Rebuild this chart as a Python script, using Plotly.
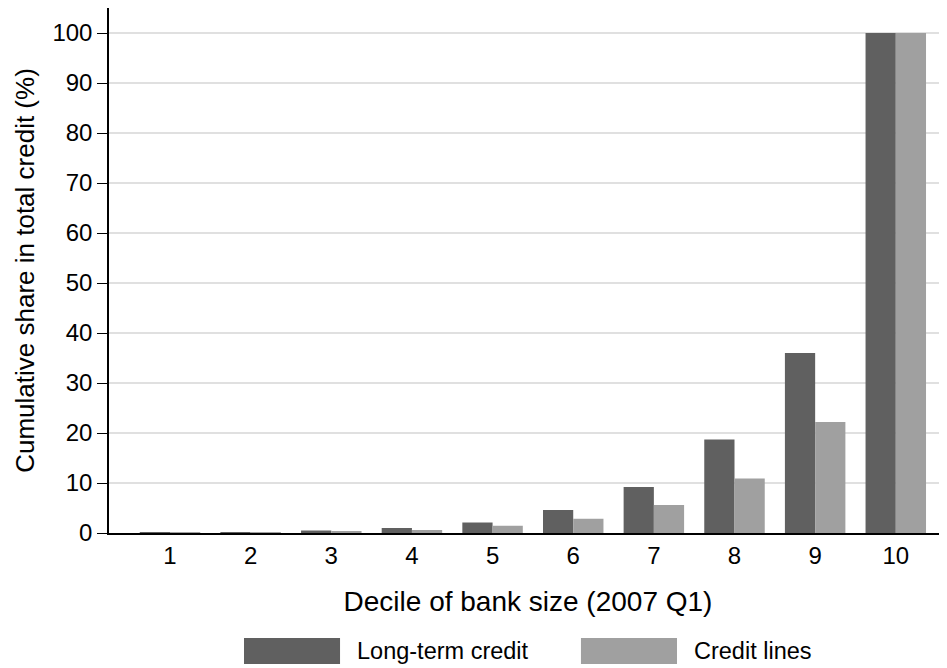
import plotly.graph_objects as go

deciles = [1, 2, 3, 4, 5, 6, 7, 8, 9, 10]
long_term = [0.1, 0.15, 0.5, 1.0, 2.1, 4.6, 9.2, 18.7, 36.0, 100.0]
credit_lines = [0.05, 0.1, 0.25, 0.6, 1.45, 2.85, 5.6, 10.9, 22.2, 100.0]
series_names = ["Long-term credit", "Credit lines"]
colors = ["#606060", "#a0a0a0"]
y_ticks = [0, 10, 20, 30, 40, 50, 60, 70, 80, 90, 100]

font = "Liberation Sans, Arial, sans-serif"

fig = go.Figure()
for name, vals, col in zip(series_names, [long_term, credit_lines], colors):
    fig.add_trace(go.Bar(x=deciles, y=vals, name=name, marker=dict(color=col, line=dict(width=0)),
                         showlegend=False))

fig.update_layout(
    width=939, height=660,
    margin=dict(l=101, r=0, t=0, b=135, autoexpand=False),
    paper_bgcolor="white", plot_bgcolor="white",
    barmode="group", bargap=0.25, bargroupgap=0,
    font=dict(family=font, color="#000"),
    xaxis=dict(range=[0.2436, 10.635], tickvals=deciles, ticktext=[str(d) for d in deciles],
               showgrid=False, showline=True, linecolor="#000", linewidth=1.5,
               ticks="", tickfont=dict(size=24, family=font),
               title=dict(text="Decile of bank size (2007 Q1)", font=dict(size=28, family=font), standoff=24),
               zeroline=False, automargin=False),
    yaxis=dict(range=[0, 105], tickvals=y_ticks, showgrid=True, gridcolor="#e0e0e0", gridwidth=1.5,
               showline=True, linecolor="#000", linewidth=1.5, ticks="outside", ticklen=10,
               tickcolor="#000", tickwidth=1.2, tickfont=dict(size=24, family=font),
               title=dict(text="Cumulative share in total credit (%)", font=dict(size=26, family=font), standoff=10),
               zeroline=False, automargin=False),
)

# legend (drawn as swatches + text beneath the chart)
legend_items = [(series_names[0], colors[0], 0.1611, 0.2757), (series_names[1], colors[1], 0.5632, 0.6778)]
for name, col, x0, x1 in legend_items:
    fig.add_shape(type="rect", xref="paper", yref="paper", x0=x0, x1=x1,
                  y0=-0.2495, y1=-0.20, fillcolor=col, line=dict(width=0))
    fig.add_annotation(text=name, xref="paper", yref="paper", x=x1 + 0.018, y=-0.2248,
                       xanchor="left", yanchor="middle", showarrow=False,
                       font=dict(size=23.5, family=font, color="#000"))

fig.write_html("out.html")
